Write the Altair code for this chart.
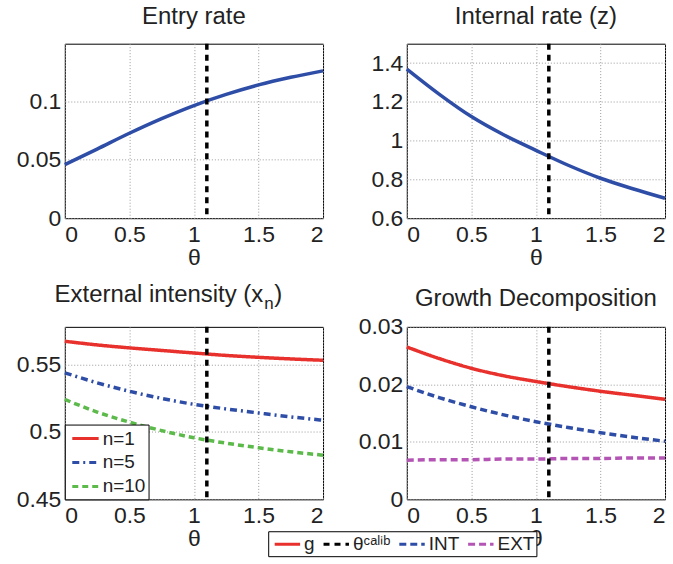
import altair as alt
import pandas as pd

# ---------------- data ----------------
theta = [0, 0.25, 0.5, 0.75, 1.0, 1.25, 1.5, 1.75, 2.0]
entry_rate = [0.0457, 0.059, 0.0725, 0.085, 0.0962, 0.1057, 0.1138, 0.1203, 0.1258]
internal_rate = [1.369, 1.24, 1.124, 1.03, 0.95, 0.873, 0.806, 0.752, 0.703]
x_n1 = [0.5673, 0.5646, 0.5624, 0.5605, 0.5586, 0.5568, 0.5554, 0.5542, 0.5532]
x_n5 = [0.5439, 0.5365, 0.5302, 0.5249, 0.5205, 0.5171, 0.5141, 0.5112, 0.5087]
x_n10 = [0.5241, 0.5148, 0.5073, 0.5010, 0.4957, 0.4917, 0.4883, 0.4853, 0.4828]
g_total = [0.0265, 0.0245, 0.0228, 0.0215, 0.0205, 0.0196, 0.0188, 0.0181, 0.0174]
g_int = [0.0196, 0.0177, 0.0161, 0.0147, 0.0135, 0.0125, 0.0116, 0.0108, 0.0101]
g_ext = [0.0068, 0.0069, 0.0069, 0.0070, 0.0070, 0.0071, 0.0071, 0.0072, 0.0072]
theta_calib = 1.1

xn_labels = ["n=1", "n=5", "n=10"]
gd_labels = ["g", "θᶜᵃˡⁱᵇ", "INT", "EXT"]

titles = ["Entry rate", "Internal rate (z)", "External intensity (x", "n", ")", "Growth Decomposition"]
x_ticks = [0, 0.5, 1, 1.5, 2]

# ---------------- styling ----------------
FONT = "Liberation Sans"
TXT = "#222222"
BLUE = "#2e4da6"
RED = "#e8302c"
GREEN = "#5cba4a"
MAGENTA = "#b455b5"
W = 259
H_TOP = 175
H_BOT = 173
LW = 3.5

calib_df = pd.DataFrame({"theta": [theta_calib]})


def x_enc():
    return alt.X("theta:Q", scale=alt.Scale(domain=[0, 2], nice=False),
                 axis=alt.Axis(values=x_ticks, format="~g", title="θ"))


def y_enc(field, domain, ticks):
    return alt.Y(f"{field}:Q", scale=alt.Scale(domain=domain, nice=False, zero=False),
                 axis=alt.Axis(values=ticks, format="~g", title=None))


def calib_rule():
    return alt.Chart(calib_df).mark_rule(color="black", strokeWidth=3.5, strokeDash=[6, 5]).encode(
        x="theta:Q")


# ---- panel 1: Entry rate
df1 = pd.DataFrame({"theta": theta, "v": entry_rate})
p1 = alt.layer(
    alt.Chart(df1).mark_line(color=BLUE, strokeWidth=LW, interpolate="monotone").encode(
        x=x_enc(), y=y_enc("v", [0, 0.149], [0, 0.05, 0.1])),
    calib_rule(),
).properties(width=W, height=H_TOP,
             title=alt.Title(titles[0], offset=-6, baseline="alphabetic"))

# ---- panel 2: Internal rate
df2 = pd.DataFrame({"theta": theta, "v": internal_rate})
p2 = alt.layer(
    alt.Chart(df2).mark_line(color=BLUE, strokeWidth=LW, interpolate="monotone").encode(
        x=x_enc(), y=y_enc("v", [0.6, 1.5], [0.6, 0.8, 1.0, 1.2, 1.4])),
    calib_rule(),
).properties(width=W, height=H_TOP,
             title=alt.Title(titles[1], offset=-6, baseline="alphabetic"))

# ---- panel 3: External intensity
df3 = pd.concat([
    pd.DataFrame({"theta": theta, "v": x_n1, "s": xn_labels[0]}),
    pd.DataFrame({"theta": theta, "v": x_n5, "s": xn_labels[1]}),
    pd.DataFrame({"theta": theta, "v": x_n10, "s": xn_labels[2]}),
])
leg3 = alt.Legend(title=None, orient="bottom-left", offset=0, symbolType="M-0.684,0L2.1,0",
                  symbolSize=361, symbolStrokeWidth=3, labelFontSize=19, labelFont=FONT,
                  labelColor=TXT, strokeColor="black", fillColor="white", padding=3,
                  rowPadding=3, labelOffset=13, cornerRadius=0)
lines3 = alt.Chart(df3).mark_line(strokeWidth=LW, interpolate="monotone").encode(
    x=x_enc(), y=y_enc("v", [0.45, 0.578], [0.45, 0.5, 0.55]),
    color=alt.Color("s:N", scale=alt.Scale(domain=xn_labels, range=[RED, BLUE, GREEN]), legend=leg3),
    strokeDash=alt.StrokeDash("s:N", scale=alt.Scale(domain=xn_labels,
                                                     range=[[1, 0], [7, 4, 2, 4], [6, 4]]), legend=leg3),
)
t_main = alt.Chart(pd.DataFrame({"t": [titles[2]]})).mark_text(
    font=FONT, fontSize=24, color=TXT, align="right", baseline="alphabetic").encode(
    text="t:N", x=alt.value(199), y=alt.value(-25))
t_sub = alt.Chart(pd.DataFrame({"t": [titles[3]]})).mark_text(
    font=FONT, fontSize=17, color=TXT, align="left", baseline="alphabetic").encode(
    text="t:N", x=alt.value(200), y=alt.value(-18))
t_close = alt.Chart(pd.DataFrame({"t": [titles[4]]})).mark_text(
    font=FONT, fontSize=24, color=TXT, align="left", baseline="alphabetic").encode(
    text="t:N", x=alt.value(210), y=alt.value(-25))
p3 = alt.layer(lines3, calib_rule(), t_main, t_sub, t_close).properties(width=W, height=H_BOT)

# ---- panel 4: Growth decomposition
df4 = pd.concat([
    pd.DataFrame({"theta": theta, "v": g_total, "s": gd_labels[0]}),
    pd.DataFrame({"theta": theta, "v": g_int, "s": gd_labels[2]}),
    pd.DataFrame({"theta": theta, "v": g_ext, "s": gd_labels[3]}),
])
calib4 = calib_df.assign(s=gd_labels[1])
leg4 = alt.Legend(title=None, orient="none", legendX=-139, legendY=205, direction="horizontal",
                  symbolType="M-0.684,0L2.0,0", symbolSize=361, symbolStrokeWidth=3,
                  labelFontSize=19, labelFont=FONT, labelColor=TXT, strokeColor="black",
                  fillColor="white", padding=2, columnPadding=2, labelOffset=12, cornerRadius=0)
col4 = alt.Color("s:N", scale=alt.Scale(domain=gd_labels, range=[RED, "black", BLUE, MAGENTA]), legend=leg4)
dash4 = alt.StrokeDash("s:N", scale=alt.Scale(domain=gd_labels, range=[[1, 0], [6, 5], [7, 4], [7, 4]]),
                       legend=leg4)
lines4 = alt.Chart(df4).mark_line(strokeWidth=LW, interpolate="monotone").encode(
    x=x_enc(), y=y_enc("v", [0, 0.03], [0, 0.01, 0.02, 0.03]), color=col4, strokeDash=dash4)
rule4 = alt.Chart(calib4).mark_rule(strokeWidth=3.5).encode(x="theta:Q", color=col4, strokeDash=dash4)
p4 = alt.layer(lines4, rule4).properties(width=W, height=H_BOT,
                                         title=alt.Title(titles[5], offset=-14, baseline="alphabetic"))

chart = alt.concat(p1, p2, p3, p4, columns=2, spacing=alt.RowColnumber(row=109, column=84),
                   bounds="flush").resolve_scale(
    color="independent", strokeDash="independent").resolve_legend(
    color="independent", strokeDash="independent").properties(
    padding={"left": 15, "top": 3, "right": 0, "bottom": 0}
).configure_view(stroke="black", strokeWidth=1).configure_axis(
    labelFont=FONT, labelFontSize=23, labelColor=TXT, titleFont=FONT, titleFontSize=23,
    titleFontWeight="normal", titleColor=TXT, domain=False, ticks=False, labelPadding=4,
    gridColor="#9a9a9a", gridDash=[1, 2], gridWidth=1, gridOpacity=1,
).configure_axisX(labelPadding=5, titlePadding=0).configure_title(
    font=FONT, fontSize=24, fontWeight="normal", color=TXT, anchor="middle")

chart.save("out.html", embed_options={"renderer": "svg", "actions": False})
